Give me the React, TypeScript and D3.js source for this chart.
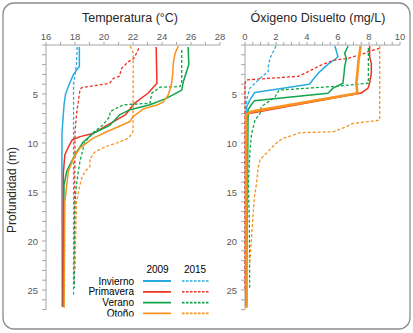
import React from "react";
import * as d3 from "d3";

type P = [number, number]; // [depth, value]

// Temperature (°C) profiles: [depth m, value]
const tempInvierno2009: P[] = [[0.2,18.3],[2.2,18.3],[3,17.9],[4,17.6],[5,17.35],[6,17.25],[7,17.2],[9,17.1],[15,17.1],[26.7,17.12]];
const tempInvierno2015: P[] = [[0.2,18.15],[2,18.1],[3,18.0],[4,17.9],[25.6,17.9]];
const tempPrimavera2009: P[] = [[0.2,23.6],[3.9,23.65],[4.9,23.05],[5.95,22.1],[7.1,21.5],[8.2,20.2],[9.0,19.3],[9.35,18.35],[9.7,17.8],[10.4,17.55],[11.2,17.3],[13,17.2],[26.7,17.15]];
const tempPrimavera2015: P[] = [[0.34,22.4],[1.36,22.07],[1.7,21.68],[2.38,21.22],[3.2,21.06],[3.4,20.65],[3.9,20.4],[4.35,18.46],[4.6,18.34],[7.1,18.1],[9,18.0],[24.5,17.95]];
const tempVerano2009: P[] = [[0.2,25.8],[2.0,25.85],[3.74,25.47],[4.6,25.36],[5.45,24.3],[6.1,23.17],[6.6,21.8],[7.1,21.1],[8.2,20.4],[9.0,19.26],[9.9,18.57],[11.2,18.0],[12.2,17.65],[12.9,17.43],[14.3,17.24],[26.7,17.2]];
const tempVerano2015: P[] = [[0.5,25.36],[3.74,25.36],[4.25,25.24],[4.3,23.86],[4.93,23.29],[5.95,23.17],[6.1,21.33],[6.8,20.41],[7.3,20.4],[8.2,19.9],[9.0,19.2],[9.9,18.7],[10.5,18.57],[11.9,18.34],[12.9,18.23],[14.3,18.1],[16,18.0],[24.8,17.95]];
const tempOtono2009: P[] = [[0.1,25.13],[0.85,24.9],[1.87,24.78],[2.9,24.74],[3.9,24.67],[5.1,24.43],[5.8,24.09],[6.1,23.7],[6.5,22.75],[7.3,22.0],[7.8,21.8],[8.85,20.19],[9.5,19.26],[10.5,18.34],[11.6,17.88],[12.9,17.54],[14.3,17.43],[16,17.3],[26.8,17.25]];
const tempOtono2015: P[] = [[0.1,21.8],[0.8,22.02],[8.85,22.0],[9.5,21.7],[10.0,20.87],[10.4,20.07],[10.9,19.38],[11.6,19.03],[12.4,19.03],[12.9,18.69],[13.6,18.46],[14.3,18.34],[16,18.1],[23.1,18.0]];

// Dissolved oxygen (mg/L) profiles: [depth m, value]
const oxyInvierno2009: P[] = [[0.1,5.8],[1.2,6.0],[1.5,5.79],[1.9,5.4],[2.9,4.71],[4.0,4.15],[4.85,0.63],[5.6,0.32],[6.3,0.1],[26.7,0.05]];
const oxyInvierno2015: P[] = [[0.1,2.0],[1.36,1.61],[2.2,1.5],[2.7,1.5],[3.4,0.97],[4.4,0.32],[5.6,0.1],[26,0.05]];
const oxyPrimavera2009: P[] = [[0.1,8.04],[1.2,8.04],[1.87,8.15],[2.9,8.15],[3.9,8.04],[4.4,7.94],[4.9,7.5],[7.0,0.25],[7.65,0.1],[26.7,0.05]];
const oxyPrimavera2015: P[] = [[0.34,8.69],[0.68,7.94],[0.85,7.72],[1.36,6.65],[1.53,5.79],[2.04,4.92],[2.9,3.85],[3.2,3.42],[3.5,0.62],[3.57,0.09],[3.9,0.0],[25,0.0]];
const oxyVerano2009: P[] = [[0.1,6.65],[0.85,6.43],[1.4,6.54],[2.2,6.43],[2.9,6.39],[3.9,6.32],[4.4,5.68],[4.93,5.35],[5.7,0.6],[6.1,0.41],[6.6,0.2],[26.7,0.1]];
const oxyVerano2015: P[] = [[0.3,7.96],[3.9,7.96],[4.2,6.0],[4.6,2.2],[5.3,1.94],[6.3,1.05],[7.0,0.97],[7.65,0.65],[9.0,0.43],[10.7,0.32],[14.1,0.22],[18,0.28],[24.8,0.3]];
const oxyOtono2009: P[] = [[0.1,7.46],[1.53,7.33],[2.9,7.25],[3.9,7.18],[4.93,7.25],[6.8,0.41],[7.1,0.08],[26.8,0.1]];
const oxyOtono2015: P[] = [[0.1,8.69],[7.65,8.69],[7.75,8.37],[8.0,6.97],[8.4,6.43],[8.85,5.7],[8.95,3.55],[9.2,3.1],[9.5,2.5],[9.86,2.13],[10.5,1.7],[10.9,1.48],[11.7,0.97],[12.6,0.84],[14.2,0.74],[15.3,0.62],[17.3,0.52],[20,0.41],[22.4,0.3]];

const seasons = ["Invierno", "Primavera", "Verano", "Otoño"];
const seasonColors = ["#29abe2", "#ec3323", "#10a54a", "#f7931e"];
const years = ["2009", "2015"];
const tempTicks = [16, 18, 20, 22, 24, 26, 28];
const oxyTicks = [0, 2, 4, 6, 8, 10];
const depthTicks = [5, 10, 15, 20, 25];

const tempSeries: P[][][] = [
  [tempInvierno2009, tempInvierno2015],
  [tempPrimavera2009, tempPrimavera2015],
  [tempVerano2009, tempVerano2015],
  [tempOtono2009, tempOtono2015],
];
const oxySeries: P[][][] = [
  [oxyInvierno2009, oxyInvierno2015],
  [oxyPrimavera2009, oxyPrimavera2015],
  [oxyVerano2009, oxyVerano2015],
  [oxyOtono2009, oxyOtono2015],
];

const FONT = "'Liberation Sans', Arial, sans-serif";
const AXIS = "#a6a6a6";
const LABEL = "#595959";

const yScale = d3.scaleLinear().domain([0, 27]).range([45, 309.6]);
const xTemp = d3.scaleLinear().domain([16, 28]).range([46, 220]);
const xOxy = d3.scaleLinear().domain([0, 10]).range([245, 400]);

function Panel({ x, ticks, minorStep, series, title, titleX, thickOrange }: any) {
  const [x0, x1] = x.domain();
  const minor = d3.range(x0, x1 + 1e-9, minorStep);
  const depthMinor = d3.range(0, 27.001, 1);
  const left = x.range()[0];
  const line = d3.line<P>().x((p) => x(p[1])).y((p) => yScale(p[0]));
  return (
    <g>
      <text x={titleX} y={22} textAnchor="middle" fontSize={12.5} fill="#262626" fontFamily={FONT}>{title}</text>
      <line x1={left} x2={x.range()[1]} y1={yScale(0)} y2={yScale(0)} stroke={AXIS} strokeWidth={1} />
      {minor.map((t: number, i: number) => (
        <line key={"xt" + i} x1={x(t)} x2={x(t)} y1={yScale(0)} y2={yScale(0) - 3} stroke={AXIS} strokeWidth={1} />
      ))}
      {ticks.map((t: number) => (
        <text key={"xl" + t} x={x(t)} y={40} textAnchor="middle" fontSize={9.5} fill={LABEL} fontFamily={FONT}>{t}</text>
      ))}
      <line x1={left} x2={left} y1={yScale(0)} y2={yScale(27)} stroke={AXIS} strokeWidth={1} />
      {depthMinor.map((d: number) => (
        <line key={"yt" + d} x1={left - 4} x2={left} y1={yScale(d)} y2={yScale(d)} stroke={AXIS} strokeWidth={1} />
      ))}
      {depthTicks.map((d) => (
        <text key={"yl" + d} x={left - 8} y={yScale(d) + 3.5} textAnchor="end" fontSize={9.5} fill={LABEL} fontFamily={FONT}>{d}</text>
      ))}
      {series.map((pair: P[][], si: number) =>
        pair.map((pts: P[], yi: number) => (
          <path
            key={"s" + si + "-" + yi}
            d={line(pts) || ""}
            fill="none"
            stroke={seasonColors[si]}
            strokeWidth={yi === 0 ? (thickOrange && si === 3 ? 2.6 : 1.5) : 1.3}
            strokeDasharray={yi === 1 ? "3,2" : undefined}
            strokeLinejoin="round"
          />
        ))
      )}
    </g>
  );
}

export default function App() {
  const rowY = [281, 291.8, 302.6, 313.4];
  return (
    <svg width={413} height={333} style={{ position: "absolute", left: 0, top: 0, background: "#fff" }}>
      <defs>
        <clipPath id="legclip">
          <rect x={0} y={0} width={413} height={316.5} />
        </clipPath>
      </defs>
      <rect x={3} y={3} width={407} height={326} rx={11} ry={11} fill="#fff" stroke="#8c8c8c" strokeWidth={1.3} />
      <Panel x={xTemp} ticks={tempTicks} minorStep={1} series={tempSeries} title="Temperatura (°C)" titleX={130} />
      <Panel x={xOxy} ticks={oxyTicks} minorStep={0.5} series={oxySeries} title="Óxigeno Disuelto (mg/L)" titleX={318} thickOrange />
      <text transform="translate(16,190) rotate(-90)" textAnchor="middle" fontSize={12} fill="#262626" fontFamily={FONT}>Profundidad (m)</text>
      <g clipPath="url(#legclip)">
        <text x={157.5} y={273} textAnchor="middle" fontSize={10} fill="#000" fontFamily={FONT}>{years[0]}</text>
        <text x={195} y={273} textAnchor="middle" fontSize={10} fill="#000" fontFamily={FONT}>{years[1]}</text>
        {seasons.map((s, i) => (
          <g key={s}>
            <text x={134} y={rowY[i] + 3.6} textAnchor="end" fontSize={10} fill="#000" fontFamily={FONT}>{s}</text>
            <line x1={143} x2={171} y1={rowY[i]} y2={rowY[i]} stroke={seasonColors[i]} strokeWidth={1.8} />
            <line x1={182} x2={210} y1={rowY[i]} y2={rowY[i]} stroke={seasonColors[i]} strokeWidth={1.6} strokeDasharray="2.5,1.5" />
          </g>
        ))}
      </g>
    </svg>
  );
}
